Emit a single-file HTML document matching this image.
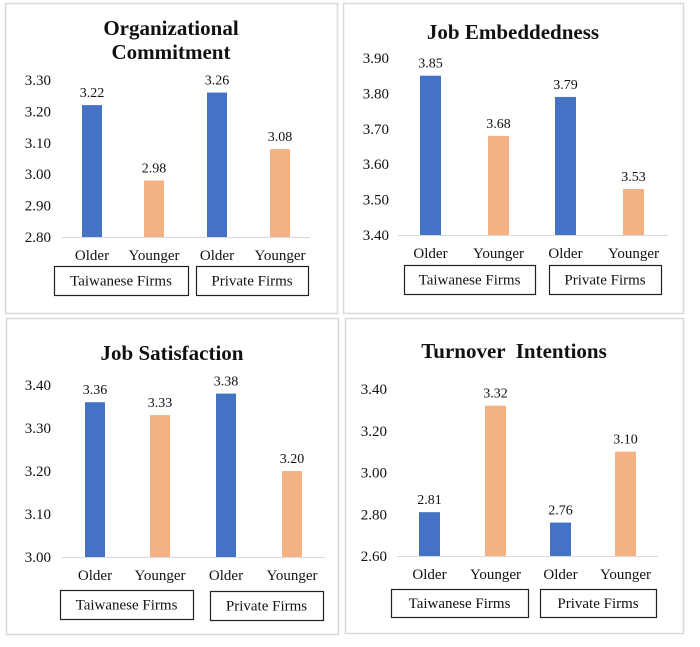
<!DOCTYPE html>
<html><head><meta charset="utf-8"><style>
html,body{margin:0;padding:0;background:#fff;}
body{width:700px;height:642px;overflow:hidden;}
svg text{font-family:"Liberation Serif",serif;fill:#111;white-space:pre;}
</style></head><body>
<svg id="chart" width="700" height="642" viewBox="0 0 700 642" xmlns="http://www.w3.org/2000/svg"></svg>
<script>
const categories = ["Older","Younger","Older","Younger"];
const groupLabels = ["Taiwanese Firms","Private Firms"];
const ocValues = [3.22,2.98,3.26,3.08];
const ocTicks = ["2.80","2.90","3.00","3.10","3.20","3.30"];
const jeValues = [3.85,3.68,3.79,3.53];
const jeTicks = ["3.40","3.50","3.60","3.70","3.80","3.90"];
const jsValues = [3.36,3.33,3.38,3.20];
const jsTicks = ["3.00","3.10","3.20","3.30","3.40"];
const tiValues = [2.81,3.32,2.76,3.10];
const tiTicks = ["2.60","2.80","3.00","3.20","3.40"];

const NS="http://www.w3.org/2000/svg";
const svg=document.getElementById('chart');
function mk(tag,attrs,parent){const e=document.createElementNS(NS,tag);for(const k in attrs)e.setAttribute(k,attrs[k]);(parent||svg).appendChild(e);return e;}

const panels=[
 {name:"organizational-commitment",title:["Organizational","Commitment"],titleY:[35,59],vals:ocValues,ticks:ocTicks,
  frame:[5,3,332,310],yTop:80,yBot:237,axX:[62,310],tickX:51,bars:[82,144,207,270],bw:20,catY:260,
  boxes:[[54,266,134,29],[196,266,112,29]]},
 {name:"job-embeddedness",title:["Job Embeddedness"],titleY:[39],vals:jeValues,ticks:jeTicks,
  frame:[343,3,340,310],yTop:58,yBot:235,axX:[398,668],tickX:389,bars:[420,488,555,623],bw:21,catY:258,
  boxes:[[404,265,131,29],[549,265,112,29]]},
 {name:"job-satisfaction",title:["Job Satisfaction"],titleY:[360],vals:jsValues,ticks:jsTicks,
  frame:[6,318,332,316],yTop:385,yBot:557,axX:[62,325],tickX:51,bars:[85,150,216,282],bw:20,catY:580,
  boxes:[[60,590,133,29],[210,591,113,29]]},
 {name:"turnover-intentions",title:["Turnover  Intentions"],titleY:[358],vals:tiValues,ticks:tiTicks,
  frame:[345,318,338,315],yTop:389,yBot:556,axX:[397,658],tickX:387,bars:[419,485,550,615],bw:21,catY:579,
  boxes:[[391,589,137,28],[540,589,116,28]]}
];
const colors=["#4472c4","#f4b183","#4472c4","#f4b183"];

panels.forEach(p=>{
  const g=mk('g',{});
  
  
  const fr=mk('rect',{x:p.frame[0]+0.5,y:p.frame[1]+0.5,width:p.frame[2],height:p.frame[3],fill:'#fff',stroke:'#d9d9d9','stroke-width':1.5},g);
  
  
  p.title.forEach((t,i)=>{
    const tt=mk('text',{x:(p.frame[0]+p.frame[2]/2),y:p.titleY[i],'text-anchor':'middle','font-size':21,'font-weight':'bold'},g);
    tt.textContent=t;
    
    
  });
  const tmin=parseFloat(p.ticks[0]), tmax=parseFloat(p.ticks[p.ticks.length-1]);
  const y=v=>p.yBot-(v-tmin)/(tmax-tmin)*(p.yBot-p.yTop);
  p.ticks.forEach(t=>{
    const tl=mk('text',{x:p.tickX,y:y(parseFloat(t))+5,'text-anchor':'end','font-size':15},g);
    tl.textContent=t;
    
    
  });
  const ax=mk('line',{x1:p.axX[0],x2:p.axX[1],y1:p.yBot+0.5,y2:p.yBot+0.5,stroke:'#d9d9d9','stroke-width':1},g);
  
  
  p.vals.forEach((v,i)=>{
    const x0=p.bars[i];
    const b=mk('rect',{x:x0,y:y(v),width:p.bw,height:p.yBot-y(v),fill:colors[i]},g);
    
    
    const vl=mk('text',{x:x0+p.bw/2,y:y(v)-8,'text-anchor':'middle','font-size':14},g);
    vl.textContent=v.toFixed(2);
    
    
    const cl=mk('text',{x:x0+p.bw/2,y:p.catY,'text-anchor':'middle','font-size':15},g);
    cl.textContent=categories[i];
    
    
  });
  p.boxes.forEach((bx,i)=>{
    const r=mk('rect',{x:bx[0]+0.5,y:bx[1]+0.5,width:bx[2],height:bx[3],fill:'#fff',stroke:'#222','stroke-width':1.2},g);
    
    
    const t=mk('text',{x:bx[0]+bx[2]/2,y:bx[1]+bx[3]/2+5,'text-anchor':'middle','font-size':15},g);
    t.textContent=groupLabels[i];
    
    
  });
});
</script>
</body></html>
